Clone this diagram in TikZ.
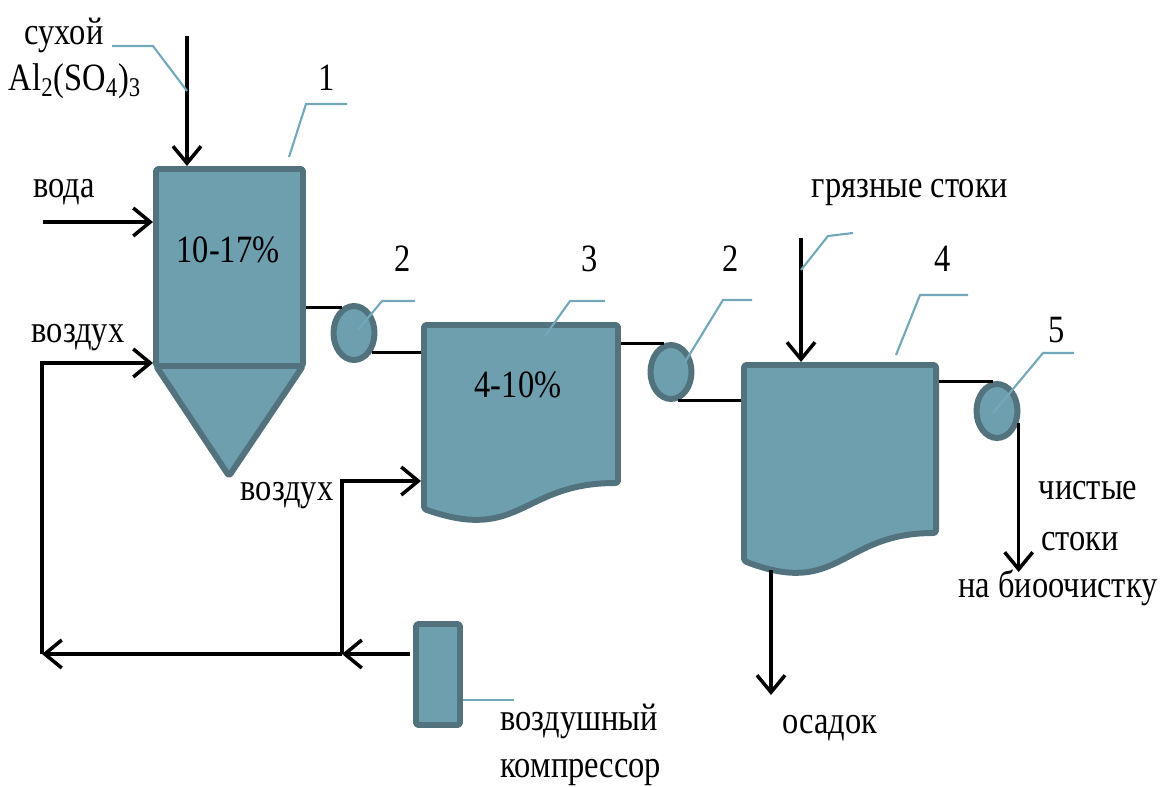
\documentclass[tikz,border=0pt]{standalone}
\usepackage{fontspec}
\setmainfont{Liberation Serif}[FakeStretch=0.84]
\usetikzlibrary{arrows.meta,shapes.geometric}
\definecolor{tankfill}{HTML}{6E9FAE}
\definecolor{tankedge}{HTML}{52737D}
\definecolor{leadcol}{HTML}{72A8B9}
\begin{document}
\begin{tikzpicture}[x=0.02cm,y=-0.02cm,
  lbl/.style={font=\fontsize{22}{26}\selectfont, inner sep=0pt, anchor=base},
  unit/.style={fill=tankfill, draw=tankedge, line width=3.4pt, line join=round, rounded corners=1.5pt},
  pump/.style={ellipse, fill=tankfill, draw=tankedge, line width=3.4pt,
    minimum width=0.82cm, minimum height=1.08cm, inner sep=0pt},
  flow/.style={line width=2pt, black},
  arr/.style={flow, -{Straight Barb[length=0.34cm, width=0.56cm, line width=2pt]}},
  lead/.style={leadcol, line width=1.2pt}]
\useasboundingbox (0,0) rectangle (1162,787);

% --- apparatus 1: dissolving tank with conical bottom
\draw[unit] (156,169) rectangle (303,366);
\draw[unit] (156,366) -- (303,366) -- (229,476) -- cycle;
\coordinate (t1-top) at (187,166);
\coordinate (t1-w1) at (153,222);
\coordinate (t1-w2) at (153,363);
\coordinate (t1-e) at (306,300);
\node[lbl] (c1) at (228,262) {10-17\%};

% --- apparatus 3: dilution tank
\draw[unit] (424,325) -- (618,325) -- (618,483)
  .. controls (521,483) and (521,543) .. (424,509) -- cycle;
\coordinate (t3-w) at (421,400);
\coordinate (t3-air) at (421,481);
\coordinate (t3-e) at (621,345);
\node[lbl] (c3) at (518,397) {4-10\%};

% --- apparatus 4: treatment tank
\draw[unit] (744,365) -- (936,365) -- (936,533)
  .. controls (840,533) and (840,598) .. (744,561) -- cycle;
\coordinate (t4-top) at (801,362);
\coordinate (t4-w) at (741,398);
\coordinate (t4-e) at (939,384);
\coordinate (t4-bot) at (771,570);

% --- pumps 2, 2 and 5
\node[pump] (p1) at (354,333) {};
\node[pump] (p2) at (671,372) {};
\node[pump] (p5) at (997,411) {};

% --- air compressor
\draw[unit] (416,624) rectangle (460,725);
\coordinate (comp-w) at (410,654);
\coordinate (comp-e) at (463,700);

% --- feed lines
\coordinate (s1) at (187,36);
\draw[arr] (s1) -- (t1-top);
\coordinate (w0) at (43,222);
\draw[arr] (w0) -- (t1-w1);
\coordinate (a0) at (42,363);
\coordinate (a1) at (42,654);
\coordinate (a2) at (342,654);
\coordinate (a3) at (342,481);
\draw[arr] (a1) -- (a0) -- (t1-w2);
\draw[arr] (comp-w) -- (a2);
\draw[arr] (a2) -- (a1);
\draw[arr] (a2) -- (a3) -- (t3-air);

% --- transfer lines
\draw[flow] (t1-e |- p1.116) -- (p1.116);
\draw[flow] (p1.-48) -- (t3-w |- p1.-48);
\draw[flow] (t3-e |- p2.104) -- (p2.104);
\draw[flow] (p2.-76) -- (t4-w |- p2.-76);
\draw[flow] (t4-e |- p5.97) -- (p5.97);
\coordinate (o5) at (1017,572);
\draw[arr] (p5.-28) -- (p5.-28 |- o5);
\coordinate (g0) at (801,238);
\draw[arr] (g0) -- (t4-top);
\coordinate (sl) at (771,695);
\draw[arr] (t4-bot) -- (sl);

% --- leader lines to labels
\draw[lead] (112,46) -- (153,46) -- (187,91);
\draw[lead] (289,157) -- (306,104) -- (347,104);
\draw[lead] (p1.center) ++(4,-3) -- (382,301) -- (415,301);
\draw[lead] (545,336) -- (570,301) -- (605,301);
\draw[lead] (p2.center) ++(14,-10) -- (723,300) -- (752,300);
\draw[lead] (801,270) -- (828,236) -- (853,233);
\draw[lead] (896,355) -- (920,295) -- (968,295);
\draw[lead] (p5.center) ++(-4,2) -- (1043,353) -- (1074,353);
\draw[lead] (comp-e) -- (514,700);

% --- text
\node[lbl] (tx1) at (64,45) {сухой};
\node[lbl] (tx2) at (75,91) {Al\textsubscript{2}(SO\textsubscript{4})\textsubscript{3}};
\node[lbl] (n1) at (327,91) {1};
\node[lbl] (tx3) at (64,197) {вода};
\node[lbl] (tx4) at (78,342) {воздух};
\node[lbl] (tx5) at (287,500) {воздух};
\node[lbl] (n2a) at (403,271) {2};
\node[lbl] (n3) at (590,271) {3};
\node[lbl] (n2b) at (731,271) {2};
\node[lbl] (n4) at (943,271) {4};
\node[lbl] (n5) at (1057,342) {5};
\node[lbl] (tx6) at (910,197) {грязные стоки};
\node[lbl] (tx7) at (1088,499) {чистые};
\node[lbl] (tx8) at (1080,550) {стоки};
\node[lbl] (tx9) at (1058,597) {на биоочистку};
\node[lbl] (tx10) at (830,733) {осадок};
\node[lbl] (tx11) at (579,730) {воздушный};
\node[lbl] (tx12) at (581,777) {компрессор};
\end{tikzpicture}
\end{document}
